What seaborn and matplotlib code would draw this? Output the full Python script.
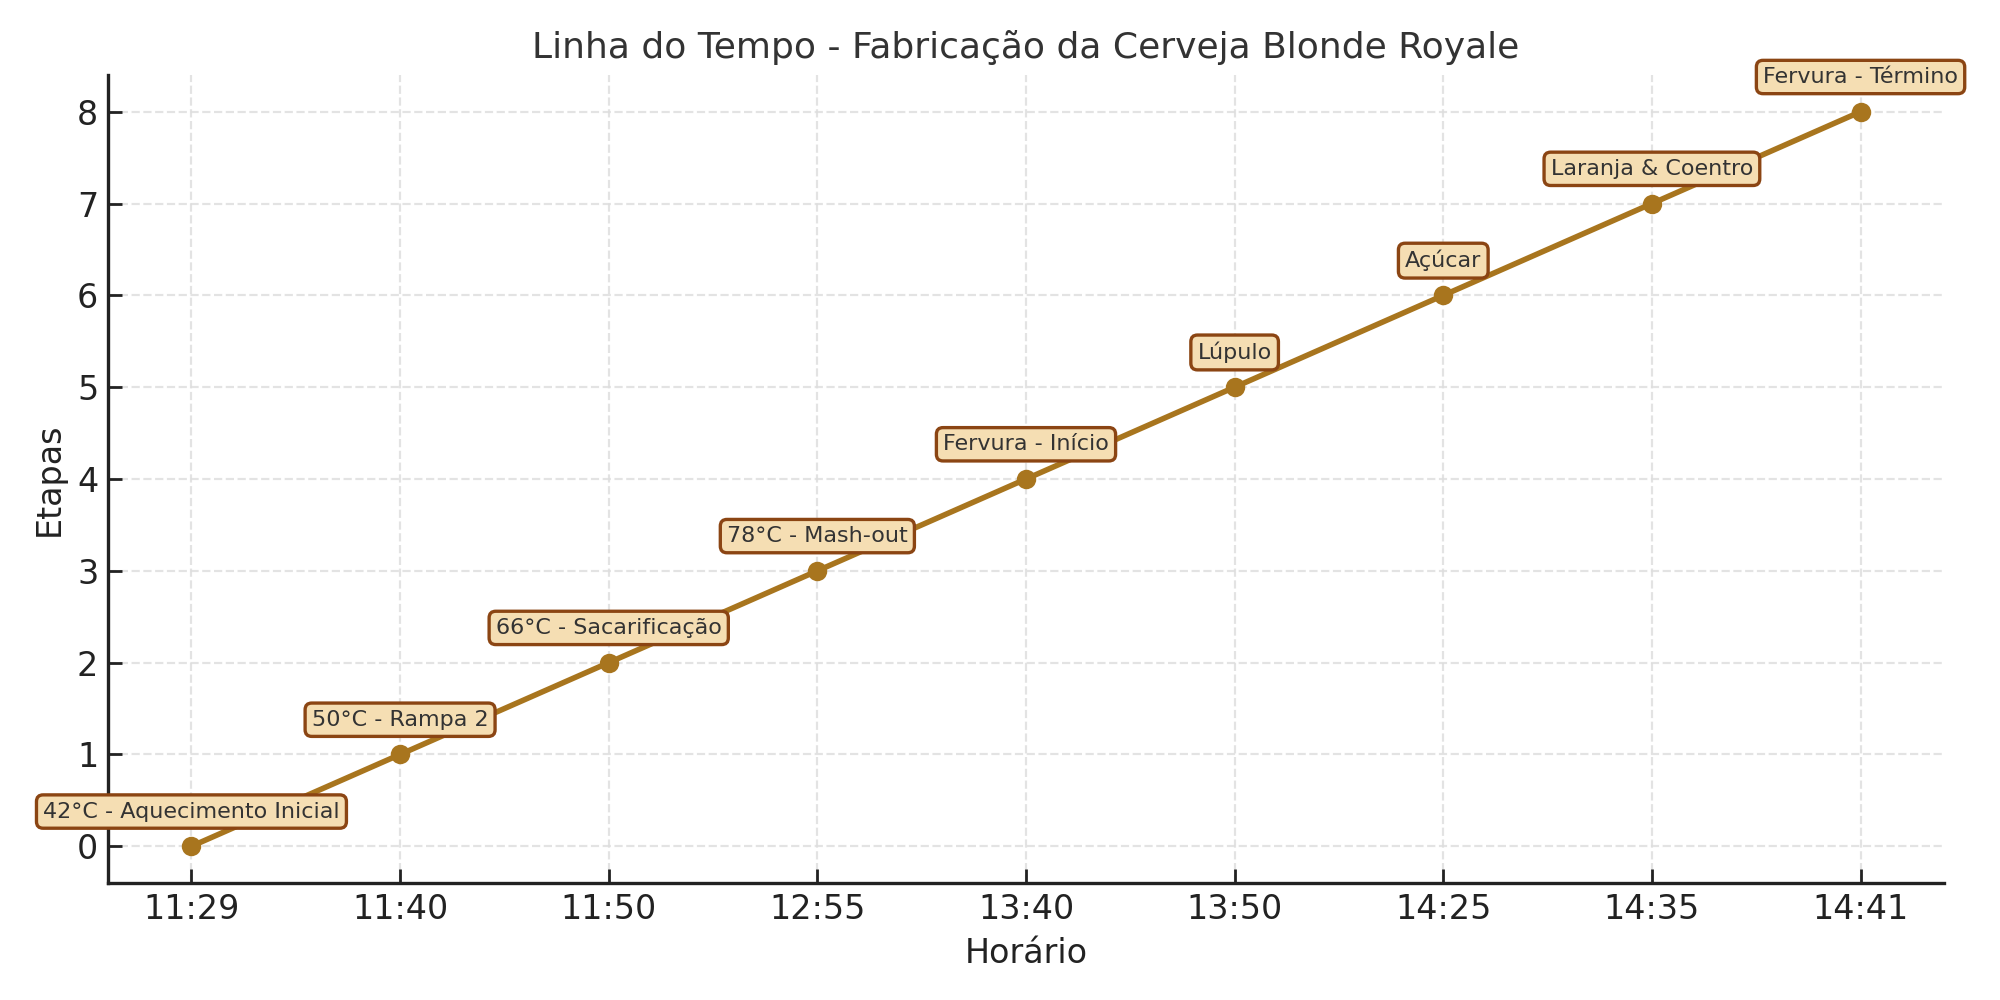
import matplotlib
matplotlib.use("Agg")
import matplotlib.pyplot as plt
import seaborn as sns
import pandas as pd

horarios = ["11:29", "11:40", "11:50", "12:55", "13:40", "13:50", "14:25", "14:35", "14:41"]
etapas = [0, 1, 2, 3, 4, 5, 6, 7, 8]
rotulos = ["42°C - Aquecimento Inicial", "50°C - Rampa 2", "66°C - Sacarificação",
           "78°C - Mash-out", "Fervura - Início", "Lúpulo", "Açúcar",
           "Laranja & Coentro", "Fervura - Término"]

sns.set_theme(style="ticks")
plt.rcParams['font.family'] = ['DejaVu Sans']
plt.rcParams['xtick.direction'] = 'in'
plt.rcParams['ytick.direction'] = 'in'

df = pd.DataFrame({"Horário": horarios, "Etapas": etapas})
df["pos"] = range(len(df))

fig, ax = plt.subplots(figsize=(10, 5), dpi=200)
line_color = "#A8751E"
sns.lineplot(data=df, x="pos", y="Etapas", ax=ax, color=line_color,
             marker="o", markersize=7, markeredgewidth=0, linewidth=2)

for i, row in df.iterrows():
    ax.annotate(rotulos[i], (row["pos"], row["Etapas"]), xytext=(0, 12.5),
                textcoords="offset points", ha="center", va="center",
                fontsize=8, color="#333333",
                bbox=dict(boxstyle="round,pad=0.3", fc="#F5DEB3", ec="#8B4513", lw=1.2))

ax.set_xticks(df["pos"])
ax.set_xticklabels(horarios)
ax.tick_params(axis="both", labelsize=12, colors="#222222", length=5, width=1)
ax.set_xlabel("Horário", fontsize=12, color="#222222")
ax.set_ylabel("Etapas", fontsize=12, color="#222222")
ax.set_title("Linha do Tempo - Fabricação da Cerveja Blonde Royale", fontsize=13, color="#333333")
ax.grid(True, linestyle="--", color="#DDDDDD", alpha=0.8, linewidth=0.8)
ax.margins(0.05)
sns.despine(ax=ax)
for s in ["left", "bottom"]:
    ax.spines[s].set_linewidth(1.2)
    ax.spines[s].set_color("#222222")

fig.subplots_adjust(left=0.054, right=0.972, top=0.925, bottom=0.117)
fig.savefig("out.png", dpi=200)
